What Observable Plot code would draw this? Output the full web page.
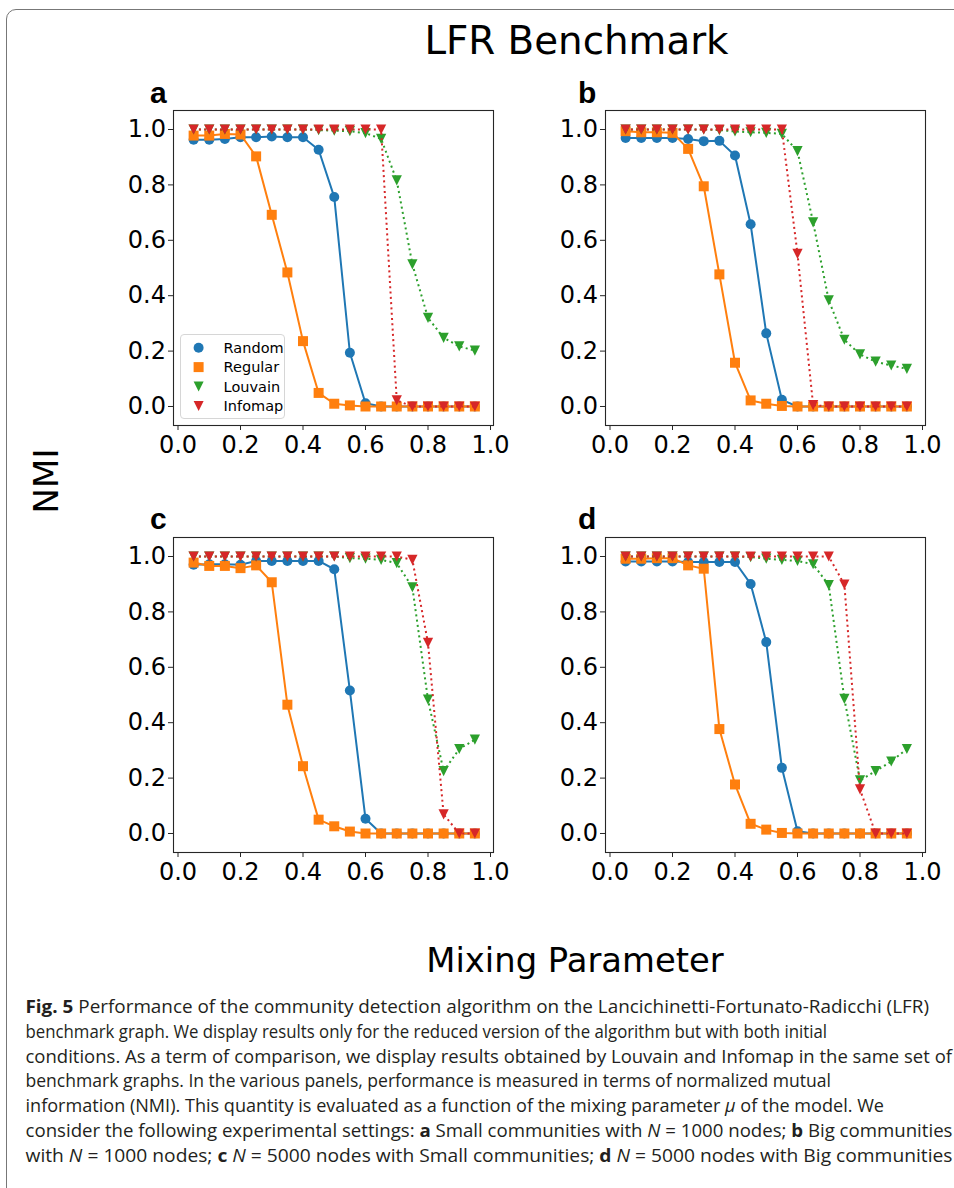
<!DOCTYPE html>
<html><head><meta charset="utf-8">
<script src="https://cdn.jsdelivr.net/npm/d3@7"></script>
<script src="https://cdn.jsdelivr.net/npm/@observablehq/plot@0.6"></script>
<style>
html,body{margin:0;padding:0;background:#fff;}
#page{position:relative;width:954px;height:1188px;overflow:hidden;background:#fff;}
.abs{position:absolute;}
</style></head><body><div id="page"></div>
<script>
// ---------- data ----------
const mu = [0.05,0.10,0.15,0.20,0.25,0.30,0.35,0.40,0.45,0.50,0.55,0.60,0.65,0.70,0.75,0.80,0.85,0.90,0.95];
const xTicks = [0.0,0.2,0.4,0.6,0.8,1.0];
const yTicks = [0.0,0.2,0.4,0.6,0.8,1.0];
const seriesNames = ["Random","Regular","Louvain","Infomap"];
const seriesColors = ["#1f77b4","#ff7f0e","#2ca02c","#d62728"];
const panelLetters = ["a","b","c","d"];

const aRandom  = [0.963,0.963,0.966,0.972,0.972,0.975,0.972,0.972,0.927,0.756,0.194,0.012,0,0,0,0,0,0,0];
const aRegular = [0.978,0.978,0.984,0.982,0.903,0.692,0.484,0.236,0.049,0.010,0.004,0,0,0,0,0,0,0,0];
const aLouvain = [1,1,1,1,1,1,1,1,0.998,0.996,0.994,0.987,0.966,0.816,0.513,0.320,0.248,0.217,0.202];
const aInfomap = [1,1,1,1,1,1,1,1,1,1,1,1,1,0.022,0,0,0,0,0];

const bRandom  = [0.969,0.969,0.969,0.969,0.966,0.958,0.959,0.906,0.658,0.264,0.024,0,0,0,0,0,0,0,0];
const bRegular = [0.994,0.990,0.990,0.988,0.930,0.795,0.477,0.158,0.022,0.010,0.002,0,0,0,0,0,0,0,0];
const bLouvain = [1,1,1,1,1,1,0.998,0.993,0.990,0.988,0.984,0.922,0.665,0.383,0.241,0.188,0.162,0.148,0.136];
const bInfomap = [1,1,1,1,1,1,1,1,1,1,1,0.551,0.005,0,0,0,0,0,0];

const cRandom  = [0.970,0.972,0.972,0.970,0.984,0.984,0.984,0.984,0.984,0.954,0.516,0.053,0,0,0,0,0,0,0];
const cRegular = [0.978,0.966,0.966,0.958,0.968,0.907,0.465,0.243,0.050,0.026,0.007,0,0,0,0,0,0,0,0];
const cLouvain = [1,1,1,1,1,1,1,1,1,1,0.994,0.992,0.988,0.976,0.889,0.483,0.225,0.305,0.339];
const cInfomap = [1,1,1,1,1,1,1,1,1,1,1,1,1,1,0.988,0.688,0.069,0,0];

const dRandom  = [0.982,0.982,0.982,0.982,0.980,0.980,0.980,0.980,0.901,0.691,0.237,0.008,0,0,0,0,0,0,0];
const dRegular = [0.992,0.992,0.994,0.994,0.968,0.956,0.377,0.177,0.035,0.014,0.002,0,0,0,0,0,0,0,0];
const dLouvain = [1,1,1,1,1,1,1,1,0.998,0.992,0.988,0.984,0.972,0.897,0.486,0.192,0.225,0.260,0.305];
const dInfomap = [1,1,1,1,1,1,1,1,1,1,1,1,1,1,0.899,0.159,0,0,0];

const panels = [
  [aRandom,aRegular,aLouvain,aInfomap],
  [bRandom,bRegular,bLouvain,bInfomap],
  [cRandom,cRegular,cLouvain,cInfomap],
  [dRandom,dRegular,dLouvain,dInfomap]
];

// ---------- styling ----------
const page = document.getElementById("page");
const triDown = {draw(ctx, size){ const r = Math.sqrt(size/Math.PI); ctx.moveTo(0, r); ctx.lineTo(-r, -r); ctx.lineTo(r, -r); ctx.closePath(); }};
const seriesSymbol = ["circle","square",triDown,triDown];
const seriesR = [5, 5.64, 5.1, 5.1];
const seriesDash = [undefined, undefined, "2,3.3", "2,3.3"];

const ML = 60, MR = 12, MT = 10, MB = 45, FW = 320, FH = 315;
const panelPos = [[173,110],[605,110],[173,537],[605,537]];

// border box
const border = document.createElement("div");
border.className = "abs";
Object.assign(border.style,{left:"6px",top:"9px",width:"1100px",height:"1400px",border:"1px solid #777",borderRadius:"10px",boxSizing:"border-box"});
page.appendChild(border);

// text overlay
const NS = "http://www.w3.org/2000/svg";
const over = document.createElementNS(NS,"svg");
over.setAttribute("width",954); over.setAttribute("height",1188);
over.setAttribute("class","abs"); over.style.left="0px"; over.style.top="0px";
over.innerHTML = `
<g font-family="DejaVu Sans" fill="#000">
  <text x="576.5" y="54.3" font-size="38.8" text-anchor="middle">LFR Benchmark</text>
  <text x="575" y="971.7" font-size="33.8" text-anchor="middle">Mixing Parameter</text>
  <text transform="translate(58,481) rotate(-90)" font-size="34" text-anchor="middle">NMI</text>
</g>
<g font-family="Liberation Sans" font-weight="bold" font-size="30" fill="#000">
  <text x="150" y="103.3">${panelLetters[0]}</text>
  <text x="578" y="103.3">${panelLetters[1]}</text>
  <text x="150" y="529.3">${panelLetters[2]}</text>
  <text x="578" y="529.3">${panelLetters[3]}</text>
</g>
<g font-family="Open Sans" font-size="17.3" fill="#231f20" style="white-space:pre">
  <text x="25.5" y="1013.3" textLength="903.5" lengthAdjust="spacingAndGlyphs"><tspan font-weight="bold">Fig. 5</tspan>  Performance of the community detection algorithm on the Lancichinetti-Fortunato-Radicchi (LFR)</text>
  <text x="25.5" y="1038" textLength="801.5" lengthAdjust="spacingAndGlyphs">benchmark graph. We display results only for the reduced version of the algorithm but with both initial</text>
  <text x="25.5" y="1062.7" textLength="926.5" lengthAdjust="spacingAndGlyphs">conditions. As a term of comparison, we display results obtained by Louvain and Infomap in the same set of</text>
  <text x="25.5" y="1087.4" textLength="805.5" lengthAdjust="spacingAndGlyphs">benchmark graphs. In the various panels, performance is measured in terms of normalized mutual</text>
  <text x="25.5" y="1112.1" textLength="858.5" lengthAdjust="spacingAndGlyphs">information (NMI). This quantity is evaluated as a function of the mixing parameter <tspan font-style="italic">μ</tspan> of the model. We</text>
  <text x="25.5" y="1136.8" textLength="927" lengthAdjust="spacingAndGlyphs">consider the following experimental settings: <tspan font-weight="bold">a</tspan> Small communities with <tspan font-style="italic">N</tspan> = 1000 nodes; <tspan font-weight="bold">b</tspan> Big communities</text>
  <text x="25.5" y="1161.5" textLength="927" lengthAdjust="spacingAndGlyphs">with <tspan font-style="italic">N</tspan> = 1000 nodes; <tspan font-weight="bold">c</tspan> <tspan font-style="italic">N</tspan> = 5000 nodes with Small communities; <tspan font-weight="bold">d</tspan> <tspan font-style="italic">N</tspan> = 5000 nodes with Big communities</text>
</g>`;
page.appendChild(over);

// ---------- panels ----------
function makePanel(vals){
  const marks = [];
  vals.forEach((v,i)=>{
    const data = mu.map((m,j)=>({x:m, y:v[j], s:seriesNames[i]}));
    const lineOpts = {x:"x", y:"y", stroke:seriesColors[i], strokeWidth:2, strokeLinecap:"butt"};
    if (seriesDash[i]) lineOpts.strokeDasharray = seriesDash[i];
    marks.push(Plot.line(data, lineOpts));
    marks.push(Plot.dot(data, {x:"x", y:"y", symbol:seriesSymbol[i], r:seriesR[i], fill:seriesColors[i]}));
  });
  marks.push(Plot.frame({stroke:"#262626", strokeWidth:1.1}));
  marks.push(Plot.axisX(xTicks, {tickFormat:d3.format(".1f"), tickSize:5, tickPadding:5, label:null, fontSize:24, stroke:"#262626"}));
  marks.push(Plot.axisY(yTicks, {tickFormat:d3.format(".1f"), tickSize:5, tickPadding:2.5, label:null, fontSize:24, stroke:"#262626"}));
  return Plot.plot({
    width: ML+FW+MR, height: MT+FH+MB,
    marginLeft: ML, marginRight: MR, marginTop: MT, marginBottom: MB,
    x: {domain:[-0.0144, 1.0096]},
    y: {domain:[-0.0686, 1.0686]},
    style: {fontFamily:"DejaVu Sans", fontSize:"24px", color:"#000", background:"transparent", overflow:"visible"},
    marks
  });
}

panels.forEach((vals,k)=>{
  const svg = makePanel(vals);
  svg.classList.add("abs");
  svg.style.position = "absolute";
  svg.style.left = (panelPos[k][0]-ML)+"px";
  svg.style.top = (panelPos[k][1]-MT)+"px";
  page.appendChild(svg);
});

// ---------- legend (panel a) ----------
const leg = d3.create("svg").attr("width",106).attr("height",86)
  .attr("class","abs").style("left","180px").style("top","334px");
leg.append("rect").attr("x",0.5).attr("y",0.5).attr("width",104).attr("height",84)
  .attr("rx",3.5).attr("fill","#fff").attr("fill-opacity",0.8).attr("stroke","#d6d6d6");
const legSym = [d3.symbolCircle, d3.symbolSquare, triDown, triDown];
const legSize = [Math.PI*25, 100, Math.PI*25, Math.PI*25];
seriesNames.forEach((name,i)=>{
  const cy = 13.7 + i*19.4;
  leg.append("path").attr("transform",`translate(18.6,${cy})`)
    .attr("d", d3.symbol(legSym[i], legSize[i])()).attr("fill", seriesColors[i]);
  leg.append("text").attr("x",43.6).attr("y",cy).attr("dy","0.36em")
    .attr("font-family","DejaVu Sans").attr("font-size",14.5).attr("fill","#000").text(name);
});
page.appendChild(leg.node());
</script></body></html>
